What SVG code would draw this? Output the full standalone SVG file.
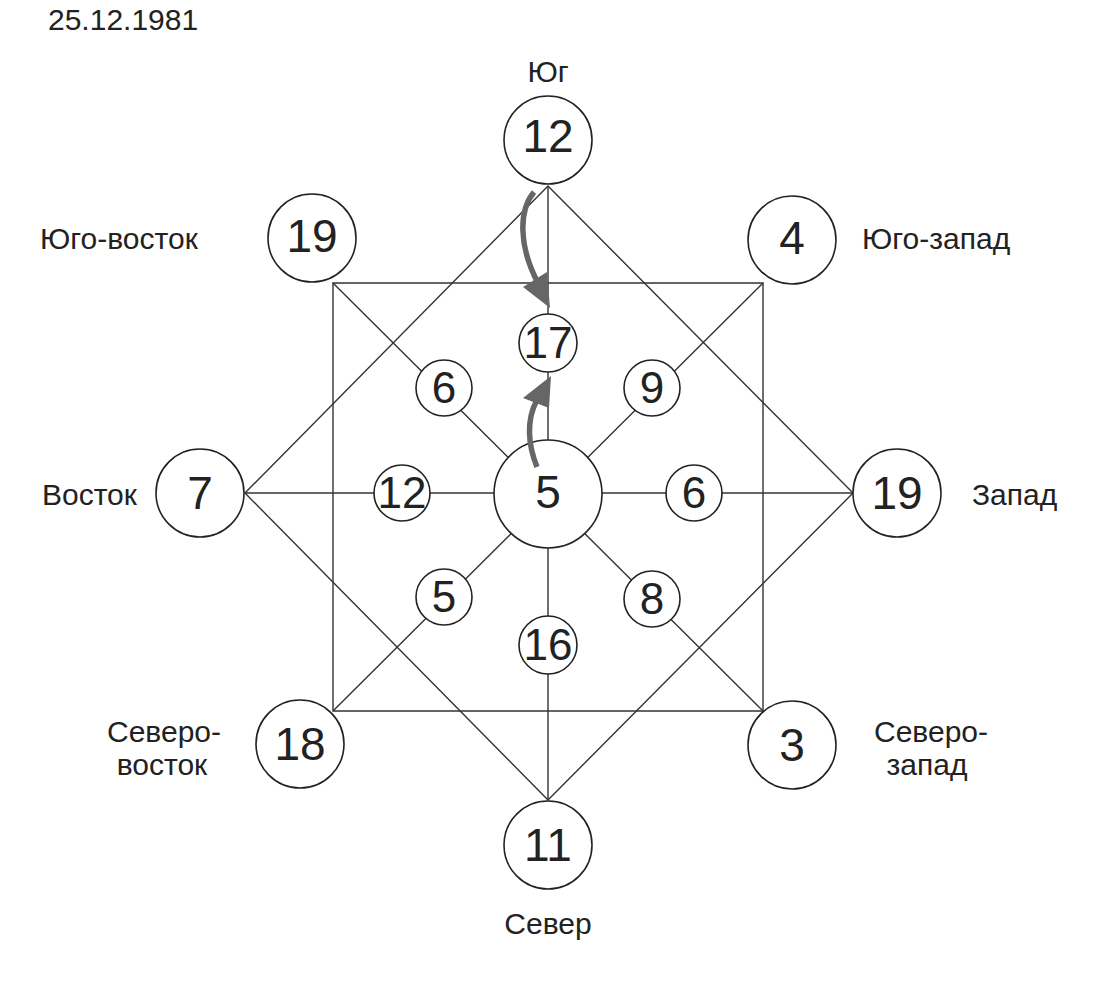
<svg xmlns="http://www.w3.org/2000/svg" width="1107" height="985" viewBox="0 0 1107 985">
<style>
.ln{stroke:#333;stroke-width:1.4;fill:none}
.c{fill:#fff;stroke:#222;stroke-width:1.6}
.n{font-family:"Liberation Sans",Arial,sans-serif;font-size:46px;fill:#222;text-anchor:middle}
.s{font-family:"Liberation Sans",Arial,sans-serif;font-size:44px;fill:#222;text-anchor:middle}
.lb{font-family:"Liberation Sans",Arial,sans-serif;font-size:30px;fill:#222}
.ar{stroke:#666;stroke-width:5.5;fill:none;stroke-linecap:butt}
.ah{fill:#666}
</style>
<rect width="1107" height="985" fill="#fff"/>
<text class="lb" x="48" y="30" font-size="28">25.12.1981</text>
<g id="connectors">
<polygon class="ln" points="333,283 763,283 763,711 333,711"/>
<polygon class="ln" points="548,186 853,493 548,800 245,493"/>
<line class="ln" x1="548" y1="186" x2="548" y2="800"/>
<line class="ln" x1="245" y1="493" x2="853" y2="493"/>
<line class="ln" x1="333" y1="283" x2="763" y2="711"/>
<line class="ln" x1="763" y1="283" x2="333" y2="711"/>
</g>
<g id="n-south"><circle class="c" cx="548" cy="140" r="44"/><text class="n" x="548" y="152">12</text></g>
<g id="n-se"><circle class="c" cx="312" cy="238" r="44"/><text class="n" x="312" y="252">19</text></g>
<g id="n-sw"><circle class="c" cx="792" cy="240" r="44"/><text class="n" x="792" y="254">4</text></g>
<g id="n-east"><circle class="c" cx="200" cy="493" r="44"/><text class="n" x="200" y="509">7</text></g>
<g id="n-west"><circle class="c" cx="897" cy="493" r="44"/><text class="n" x="897" y="509">19</text></g>
<g id="n-ne"><circle class="c" cx="300" cy="744" r="44"/><text class="n" x="300" y="760">18</text></g>
<g id="n-nw"><circle class="c" cx="792" cy="745" r="44"/><text class="n" x="792" y="761">3</text></g>
<g id="n-north"><circle class="c" cx="548" cy="845" r="44"/><text class="n" x="548" y="861">11</text></g>
<g id="n-center"><circle class="c" cx="548" cy="494" r="54"/><text class="n" x="548" y="508">5</text></g>
<g id="i-17"><circle class="c" cx="548" cy="343" r="29"/><text class="s" x="548" y="358">17</text></g>
<g id="i-6a"><circle class="c" cx="444" cy="388" r="28"/><text class="s" x="444" y="403">6</text></g>
<g id="i-9"><circle class="c" cx="652" cy="388" r="28"/><text class="s" x="652" y="403">9</text></g>
<g id="i-12"><circle class="c" cx="402" cy="493" r="28"/><text class="s" x="402" y="508">12</text></g>
<g id="i-6b"><circle class="c" cx="694" cy="493" r="28"/><text class="s" x="694" y="508">6</text></g>
<g id="i-5"><circle class="c" cx="444" cy="597" r="28"/><text class="s" x="444" y="612">5</text></g>
<g id="i-8"><circle class="c" cx="652" cy="599" r="28"/><text class="s" x="652" y="614">8</text></g>
<g id="i-16"><circle class="c" cx="548" cy="645" r="29"/><text class="s" x="548" y="660">16</text></g>
<g id="arrows">
<path class="ar" d="M534,192 C519,210 518,245 538,283"/>
<polygon class="ah" points="523,287 547,272 550,308"/>
<path class="ar" d="M537,467 C528,445 526,420 537,400"/>
<polygon class="ah" points="523,398 551,376 549,408"/>
</g>
<g id="labels">
<text class="lb" x="548" y="82" text-anchor="middle">Юг</text>
<text class="lb" x="40" y="249">Юго-восток</text>
<text class="lb" x="862" y="249">Юго-запад</text>
<text class="lb" x="42" y="505">Восток</text>
<text class="lb" x="972" y="505">Запад</text>
<text class="lb" x="164" y="742" text-anchor="middle">Северо-</text>
<text class="lb" x="162" y="775" text-anchor="middle">восток</text>
<text class="lb" x="931" y="742" text-anchor="middle">Северо-</text>
<text class="lb" x="927" y="775" text-anchor="middle">запад</text>
<text class="lb" x="548" y="934" text-anchor="middle">Север</text>
</g>
</svg>
